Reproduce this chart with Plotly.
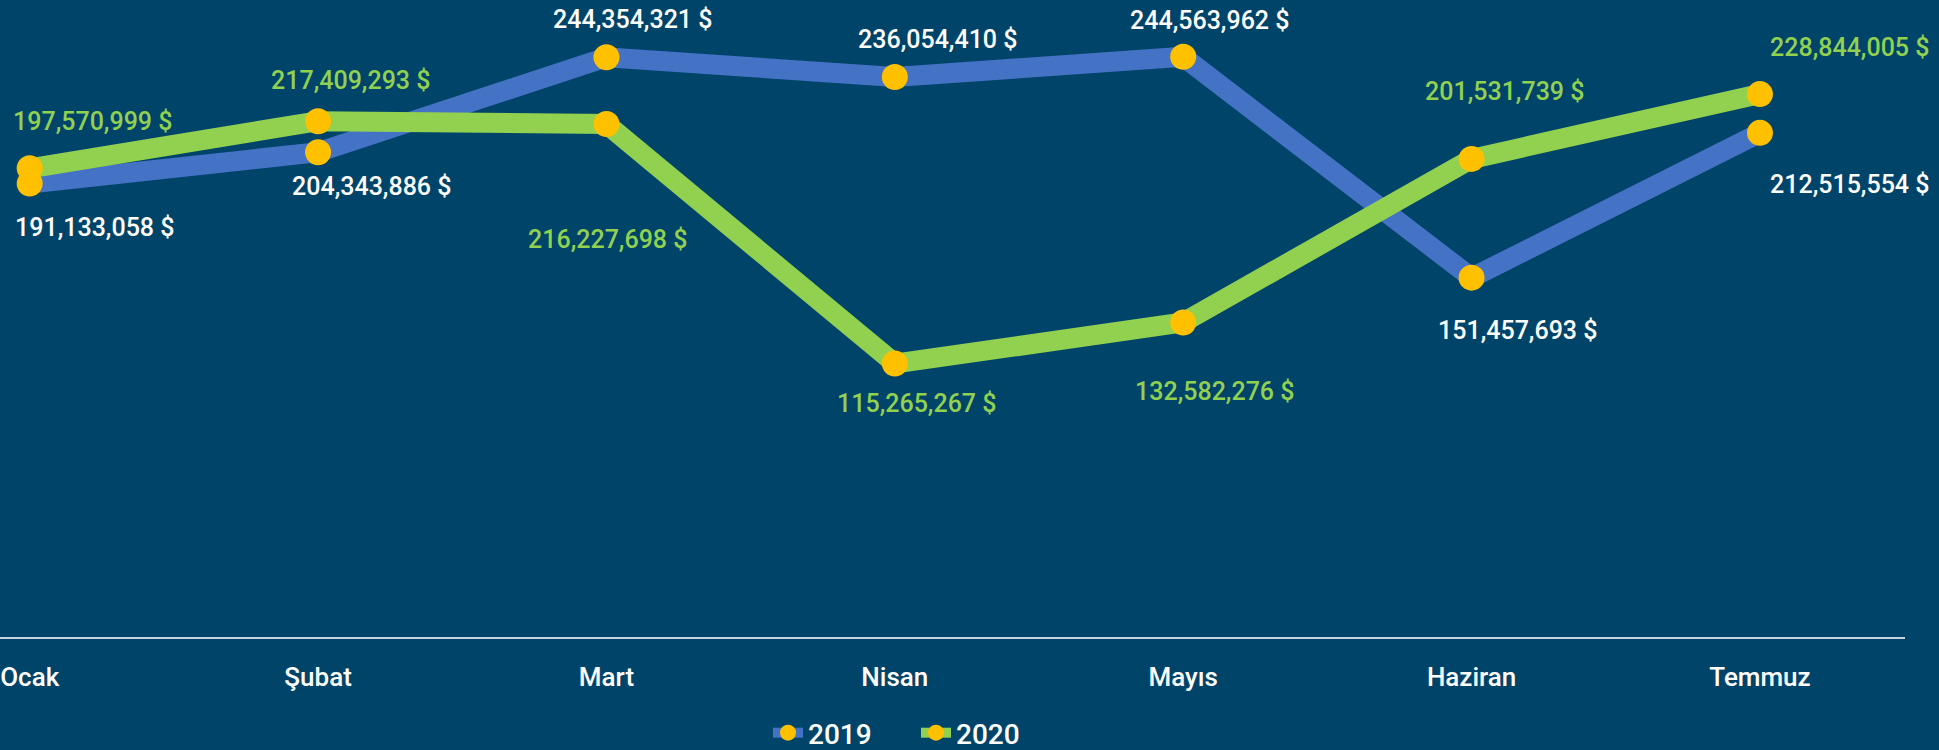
import plotly.graph_objects as go

# ---- data ----
months = ["Ocak", "Şubat", "Mart", "Nisan", "Mayıs", "Haziran", "Temmuz"]
sales_2019 = [191133058, 204343886, 244354321, 236054410, 244563962, 151457693, 212515554]
sales_2020 = [197570999, 217409293, 216227698, 115265267, 132582276, 201531739, 228844005]
series_names = ["2019", "2020"]

# ---- styling ----
BG = "#01446A"
BLUE = "#4472C4"
GREEN = "#92D050"
YELLOW = "#FFC000"
WHITE = "#FFFFFF"
FONT = "Roboto, Liberation Sans, Arial, sans-serif"

# label offsets in pixels (xshift, yshift) for each point label
offs_2019 = [(65, -44), (54, -34), (27, 38), (43, 37), (27, 36), (46, -53), (90, -52)]
offs_2020 = [(63, 47), (33, 41), (2, -115), (22, -40), (32, -69), (33, 67), (90, 47)]

fig = go.Figure()
for name, vals, col in [(series_names[0], sales_2019, BLUE), (series_names[1], sales_2020, GREEN)]:
    fig.add_trace(go.Scatter(
        x=months, y=vals, name=name, mode="lines+markers",
        line=dict(color=col, width=20),
        marker=dict(color=YELLOW, size=26, line=dict(width=0)),
        hoverinfo="skip",
    ))

annotations = []
for vals, offs, col in [(sales_2019, offs_2019, WHITE), (sales_2020, offs_2020, GREEN)]:
    for m, v, (dx, dy) in zip(months, vals, offs):
        annotations.append(dict(
            x=m, y=v, xref="x", yref="y", text=f"{v:,} $", showarrow=False,
            xshift=dx, yshift=dy, font=dict(family=FONT, size=25, color=col, weight=500),
        ))

fig.update_layout(
    width=1939, height=750, autosize=False,
    paper_bgcolor=BG, plot_bgcolor=BG,
    margin=dict(l=0, r=34, t=0, b=113),
    font=dict(family=FONT, color=WHITE, weight=500),
    annotations=annotations,
    showlegend=True,
    legend=dict(orientation="h", xref="container", yref="container",
                x=768 / 1939, xanchor="left", y=(750 - 733) / 750, yanchor="middle",
                font=dict(family=FONT, size=28, color=WHITE, weight=500),
                bgcolor="rgba(0,0,0,0)", itemwidth=30, entrywidth=103,
                entrywidthmode="pixels"),
    xaxis=dict(type="category", range=[-0.103, 6.503], showgrid=False, zeroline=False,
               showline=True, linecolor="#C8D2DC", linewidth=2, ticks="",
               tickfont=dict(family=FONT, size=26, color=WHITE, weight=500),
               ticklabelstandoff=16, fixedrange=True),
    yaxis=dict(range=[0, 268.5e6], visible=False, showgrid=False, zeroline=False,
               fixedrange=True),
)

fig.write_html("out.html", config={"displayModeBar": False},
               post_script="document.body.style.margin='0';document.body.style.overflow='hidden';")
